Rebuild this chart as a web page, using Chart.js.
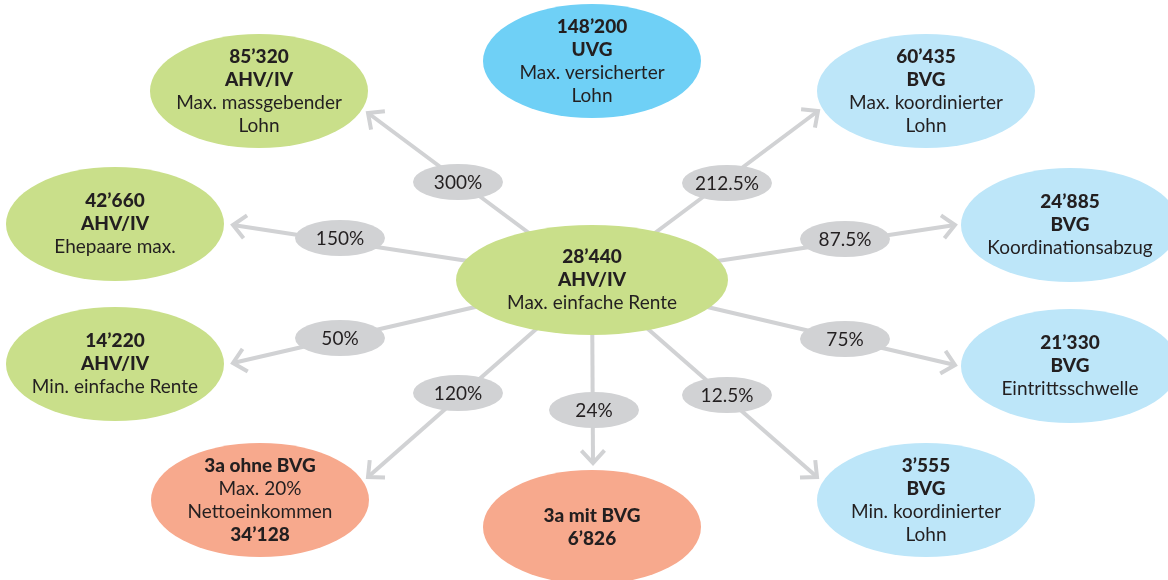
<!DOCTYPE html>
<html>
<head>
<meta charset="UTF-8">
<title>Grenzbeträge AHV / BVG / UVG</title>
<script src="https://cdn.jsdelivr.net/npm/chart.js"></script>
<style>
  body { margin: 0; background: #fff; }
  canvas { display: block; }
</style>
</head>
<body>
<canvas id="chart" width="1168" height="580"></canvas>
<script>
// Beträge in CHF, Knoten 0 = max. einfache AHV-Rente
const amounts  = ["28’440", "85’320", "148’200", "60’435", "42’660", "24’885", "14’220", "21’330", "3’555", "34’128", "6’826"];
const systems  = ["AHV/IV", "AHV/IV", "UVG", "BVG", "AHV/IV", "BVG", "AHV/IV", "BVG", "BVG", "3a ohne BVG", "3a mit BVG"];
const captions = [
  ["Max. einfache Rente"], ["Max. massgebender", "Lohn"], ["Max. versicherter", "Lohn"],
  ["Max. koordinierter", "Lohn"], ["Ehepaare max."], ["Koordinationsabzug"],
  ["Min. einfache Rente"], ["Eintrittsschwelle"], ["Min. koordinierter", "Lohn"],
  ["Max. 20%", "Nettoeinkommen"], []
];
const groups = ["ahv", "ahv", "uvg", "bvg", "ahv", "bvg", "ahv", "bvg", "bvg", "3a", "3a"];

// Verhältnis zur max. einfachen Rente
const linkTargets  = [1, 3, 4, 5, 6, 7, 9, 10, 8];
const linkPercents = [300, 212.5, 150, 87.5, 50, 75, 120, 24, 12.5];

// layout (diagram units = pixels of the 1168x580 sheet)
const nodePos  = [[592,280],[259,91],[592,61],[926,91],[115,224],[1070,225],[115,364],[1070,366],[926,500],[260,500],[592,527]];
const tipPos   = [[368,113],[818,111],[233,225],[955,225],[233,363],[955,365],[368,477],[593,463],[817,477]];
const badgePos = [[458,182],[727,183],[340,238],[845,239],[340,338],[845,339],[458,393],[594,410],[727,395]];

const colors = { ahv: '#c9df8a', uvg: '#6fd0f6', bvg: '#bde6f9', '3a': '#f7a98d' };
const gray = '#d1d2d4';
const ink = '#231f20';
const FONT = 'Lato, "Open Sans", sans-serif';

function nodeLines(i) {
  if (groups[i] === '3a') {
    return [[systems[i], true]].concat(captions[i].map(c => [c, false]), [[amounts[i], true]]);
  }
  return [[amounts[i], true], [systems[i], true]].concat(captions[i].map(c => [c, false]));
}

const diagramPlugin = {
  id: 'diagram',
  afterDatasetsDraw(chart) {
    const { ctx } = chart;
    const xs = chart.scales.x, ys = chart.scales.y;
    const px = p => [xs.getPixelForValue(p[0]), ys.getPixelForValue(p[1])];
    const sx = v => xs.getPixelForValue(v) - xs.getPixelForValue(0);
    const sy = v => Math.abs(ys.getPixelForValue(v) - ys.getPixelForValue(0));
    ctx.save();

    // arrow heads
    const [ox, oy] = px(nodePos[0]);
    ctx.strokeStyle = gray;
    ctx.lineWidth = 4;
    ctx.lineJoin = 'miter';
    tipPos.forEach(t => {
      const [tx, ty] = px(t);
      const a = Math.atan2(ty - oy, tx - ox);
      const len = 17, spread = Math.PI / 4.2;
      ctx.beginPath();
      ctx.moveTo(tx - len * Math.cos(a - spread), ty - len * Math.sin(a - spread));
      ctx.lineTo(tx, ty);
      ctx.lineTo(tx - len * Math.cos(a + spread), ty - len * Math.sin(a + spread));
      ctx.stroke();
    });

    // percentage badges
    ctx.textAlign = 'center';
    ctx.textBaseline = 'middle';
    linkPercents.forEach((p, i) => {
      const [bx, by] = px(badgePos[i]);
      ctx.fillStyle = gray;
      ctx.beginPath();
      ctx.ellipse(bx, by, sx(45), sy(18), 0, 0, Math.PI * 2);
      ctx.fill();
      ctx.fillStyle = ink;
      ctx.font = '19px ' + FONT;
      ctx.fillText(p + '%', bx, by + 1);
    });

    // nodes
    amounts.forEach((_, i) => {
      const [cx, cy] = px(nodePos[i]);
      const rx = i === 0 ? 136 : 109, ry = i === 0 ? 55 : 57;
      ctx.fillStyle = colors[groups[i]];
      ctx.beginPath();
      ctx.ellipse(cx, cy, sx(rx), sy(ry), 0, 0, Math.PI * 2);
      ctx.fill();
      const lines = nodeLines(i);
      lines.forEach(([txt, bold], k) => {
        ctx.fillStyle = ink;
        ctx.font = (bold ? '900 ' : '') + '19px ' + FONT;
        ctx.fillText(txt, cx, cy + (k - (lines.length - 1) / 2) * 23);
      });
    });
    ctx.restore();
  }
};

const datasets = linkTargets.map((t, i) => ({
  label: systems[t] + ' ' + linkPercents[i] + '%',
  data: [{ x: nodePos[0][0], y: nodePos[0][1] }, { x: tipPos[i][0], y: tipPos[i][1] }],
  showLine: true,
  borderColor: gray,
  borderWidth: 4,
  pointRadius: 0
}));
datasets.push({
  label: 'Knoten',
  data: nodePos.map(p => ({ x: p[0], y: p[1] })),
  pointRadius: 0,
  showLine: false
});

new Chart(document.getElementById('chart').getContext('2d'), {
  type: 'scatter',
  data: { datasets: datasets },
  options: {
    responsive: false,
    animation: false,
    layout: { padding: 0 },
    plugins: { legend: { display: false }, tooltip: { enabled: false } },
    scales: {
      x: { type: 'linear', min: 0, max: 1168, display: false },
      y: { type: 'linear', min: 0, max: 580, reverse: true, display: false }
    }
  },
  plugins: [diagramPlugin]
});
</script>
</body>
</html>
